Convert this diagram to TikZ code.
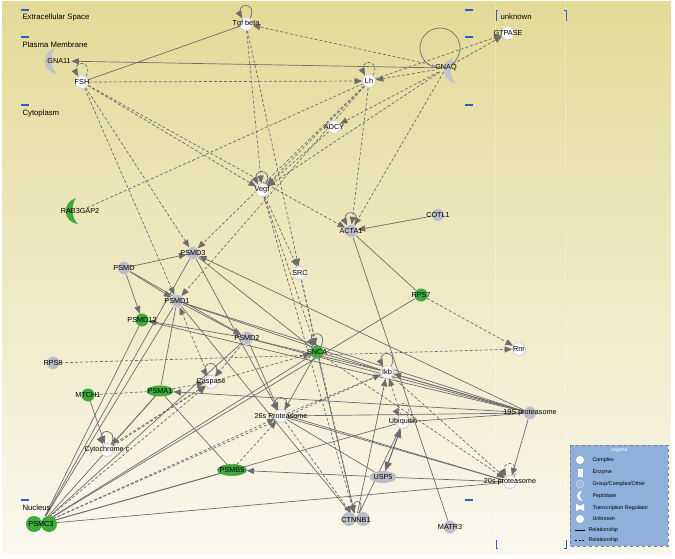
\documentclass[tikz,border=0pt]{standalone}
\usepackage{fontspec}
\setmainfont{Liberation Sans}
\usetikzlibrary{arrows}
\usetikzlibrary{shapes}

\definecolor{bgtop}{RGB}{227,218,152}
\definecolor{bgmid}{RGB}{240,234,198}
\definecolor{bgbot}{RGB}{250,248,238}
\definecolor{nodegrey}{RGB}{188,188,198}
\definecolor{nodegreen}{RGB}{62,170,62}
\definecolor{edgegrey}{RGB}{108,108,108}
\definecolor{legblue}{RGB}{143,176,218}
\definecolor{markblue}{RGB}{52,92,200}

\pgfdeclarelayer{back}
\pgfdeclarelayer{links}
\pgfsetlayers{back,links,main}

% peptidase crescent: x, y, colour
\newcommand\pepshape[3]{%
 \fill[#3] (#1+3,#2-13) .. controls (#1-11,#2-9) and (#1-11,#2+11) .. (#1+5,#2+13)
   .. controls (#1-2,#2+7) and (#1-2,#2-6) .. (#1+3,#2-13);}
% self loop over a node
\newcommand\selfloop[2][rel]{%
 \draw[#1,arr] (#2.55) .. controls +(9,-17) and +(-9,-17) .. (#2.125);}

\tikzset{
 gene/.style={circle,minimum size=13bp,inner sep=0pt},
 wgene/.style={gene,draw=white!65!gray,line width=0.9bp,fill=white},
 ggene/.style={gene,draw=white!55!nodegrey,line width=0.6bp,fill=nodegrey},
 grgene/.style={gene,fill=nodegreen},
 glabel/.style={font=\fontsize{7.3}{8}\selectfont,inner sep=0.5bp},
 comp/.style={anchor=west,font=\fontsize{7.8}{9}\selectfont},
 legtext/.style={anchor=west,font=\fontsize{5.4}{6}\selectfont},
 rel/.style={draw=edgegrey,line width=0.7bp},
 drel/.style={rel,dash pattern=on 3bp off 2bp},
 arr/.style={-triangle 45},
}

\begin{document}
\begin{tikzpicture}[x=1bp,y=-1bp]
\useasboundingbox (0,0) rectangle (675,559);
\begin{pgfonlayer}{back}
 \fill[white] (0,0) rectangle (675,559);
 \shade[top color=bgtop,middle color=bgmid,bottom color=bgbot] (2,2) rectangle (671,553);
 \draw[white,opacity=.25,line width=1bp] (495,2) -- (495,553);
 \draw[white,opacity=.25,line width=1bp] (565,2) -- (565,553);
\end{pgfonlayer}

% compartments
\foreach \y in {10,37,105,500} {
 \draw[markblue,line width=1.2bp] (21,\y) -- (29,\y);
 \draw[markblue,line width=1.2bp] (465,\y) -- (473,\y);
}
\node[comp] at (19,17) {Extracellular Space};
\node[comp] at (19,45) {Plasma Membrane};
\node[comp] at (19,113) {Cytoplasm};
\node[comp] at (19,508) {Nucleus};
\node[comp] at (497,17) {unknown};
\draw[markblue,line width=0.8bp] (498,10) -- (496,10) -- (496,21);
\draw[markblue,line width=0.8bp] (564,10) -- (566,10) -- (566,21);
\draw[markblue,line width=0.8bp] (496,540) -- (496,548) -- (498,548);
\draw[markblue,line width=0.8bp] (566,540) -- (566,548) -- (564,548);

% plasma membrane
\pepshape{52}{61}{nodegrey!90!white}
\node[glabel] (gna) at (59,61) {GNA11};
\draw[edgegrey,line width=0.7bp] (440,48) circle (20);
\pepshape{451}{70}{nodegrey!90!white}
\node[glabel] (gnaq) at (446,68) {GNAQ};
\node[wgene,label={[glabel]center:Tgf beta}] (tgf) at (246,24) {};
\node[wgene,label={[glabel]center:FSH}] (fsh) at (82,82) {};
\node[wgene,label={[glabel]center:Lh}] (lh) at (369,81) {};
\node[wgene,label={[glabel]center:GTPASE}] (gtp) at (508,33) {};

% cytoplasm
\node[wgene,label={[glabel]center:ADCY}] (adcy) at (334,127) {};
\node[wgene,label={[glabel]center:Vegf}] (vegf) at (262,190) {};
\node[ggene,label={[glabel]center:ACTA1}] (acta) at (351,231) {};
\node[ggene,label={[glabel]center:COTL1}] (cotl) at (438,215) {};
\pepshape{73}{211}{nodegreen}
\node[glabel] (rab) at (80,211) {RAB3GAP2};
\node[ggene,label={[glabel]center:PSMD3}] (pmd3) at (193,253) {};
\node[ggene,label={[glabel]center:PSMD}] (pmd) at (124,268) {};
\node[wgene,label={[glabel]center:SRC}] (src) at (300,273) {};
\node[grgene,label={[glabel]center:RPS7}] (rps7) at (421,295) {};
\node[ggene,label={[glabel]center:PSMD1}] (pmd1) at (177,301) {};
\node[grgene,label={[glabel]center:PSMD12}] (pmd12) at (142,320) {};
\node[ggene,label={[glabel]center:PSMD2}] (pmd2) at (247,338) {};
\node[grgene,label={[glabel]center:SNCA}] (snca) at (317,352) {};
\node[wgene,label={[glabel]center:Rnr}] (rnr) at (519,349) {};
\node[ggene,label={[glabel]center:RPS8}] (rps8) at (53,363) {};
\node[wgene,label={[glabel]center:Ikb}] (ikb) at (387,372) {};
\node[wgene,label={[glabel]center:Caspase}] (casp) at (211,382) {};
\node[ellipse,fill=nodegreen,minimum width=27bp,minimum height=11bp,inner sep=0pt,
 label={[glabel]center:PSMA1}] (psma) at (160,391) {};
\node[grgene,label={[glabel]center:MTCH1}] (mtch) at (88,395) {};
\node[wgene,label={[glabel]center:26s Proteasome}] (p26) at (281,416) {};
\node[wgene,label={[glabel]center:Ubiquitin}] (ubq) at (403,422) {};
\node[ggene,label={[glabel]center:19S proteasome}] (p19) at (530,413) {};
\node[wgene,label={[glabel]center:Cytochrome c}] (cyto) at (107,450) {};
\node[ellipse,fill=nodegreen,draw=nodegreen!70!black,minimum width=29bp,minimum height=11bp,
 inner sep=0pt,label={[glabel]center:PSMB5}] (psmb) at (232,470) {};
\node[ellipse,fill=nodegrey,minimum width=27bp,minimum height=12bp,inner sep=0pt,
 label={[glabel]center:USP5}] (usp) at (383,477) {};
\node[wgene,label={[glabel]center:20s proteasome}] (p20) at (510,482) {};
\node[ggene,label={[glabel]center:MATR3}] (matr) at (450,527) {};

% nucleus
\fill[nodegreen] (34,524) circle (8) (49,524) circle (8);
\node[ellipse,minimum width=32bp,minimum height=16bp,inner sep=0pt,
 label={[glabel]center:PSMC3}] (psmc) at (41,524) {};
\fill[nodegrey] (349,519) circle (7) (363,519) circle (7);
\node[ellipse,minimum width=28bp,minimum height=14bp,inner sep=0pt,
 label={[glabel]center:CTNNB1}] (ctn) at (356,520) {};

\begin{pgfonlayer}{links}
 % solid relationships
 \draw[rel] (fsh) -- (tgf);
 \draw[rel,arr] (gnaq) -- (gna);
 \draw[rel,arr] (cotl) -- (acta);
 \draw[rel] (acta) -- (rps7);
 \draw[rel] (acta) -- (matr);
 \draw[rel] (psmc) -- (rps7);
 \draw[rel,arr] (pmd) -- (pmd3);
 \draw[rel,arr] (pmd) -- (pmd12);
 \draw[rel,arr] (pmd) -- (pmd1);
 \draw[rel,arr] (pmd) -- (pmd2);
 \draw[rel,arr] (pmd1) -- (pmd2);
 \draw[rel,arr] (pmd2) -- (pmd12);
 \draw[rel,arr] (p19) -- (pmd3);
 \draw[rel] (p19) -- (pmd1);
 \draw[rel] (p19) -- (pmd12);
 \draw[rel] (p19) -- (pmd2);
 \draw[rel] (p19) -- (snca);
 \draw[rel,arr] (p19) -- (ikb);
 \draw[rel] (p19) -- (ubq);
 \draw[rel] (p19) -- (p26);
 \draw[rel,arr] (p19) -- (p20);
 \draw[rel,arr] (p19) -- (psma);
 \draw[rel] (pmd3) -- (psmc);
 \draw[rel] (pmd1) -- (psmc);
 \draw[rel] (pmd12) -- (psmc);
 \draw[rel] (pmd2) -- (psmc);
 \draw[rel] (psma) -- (psmc);
 \draw[rel] (snca) -- (psmc);
 \draw[rel] (ubq) -- (psmc);
 \draw[rel] (p20) -- (psmc);
 \draw[rel] (psmb) -- (psmc);
 \draw[rel,arr] (psma) -- (cyto);
 \draw[rel,arr] (mtch) -- (cyto);
 \draw[rel] (psma) -- (psmb);
 \draw[rel] (pmd1) -- (psma);
 \draw[rel,arr] (pmd2) -- (p26);
 \draw[rel,arr] (snca) -- (p26);
 \draw[rel] (pmd3) -- (p26);
 \draw[rel] (pmd1) -- (ikb);
 \draw[rel] (pmd2) -- (ikb);
 \draw[rel] (pmd3) -- (snca);
 \draw[rel,line width=1.1bp,triangle 45-triangle 45] (usp) -- (ubq);
 \draw[rel,arr] (usp) -- (psmb);
 \draw[rel] (usp) -- (p20);
 \draw[rel,arr] (ctn) -- (ikb);
 \draw[rel] (ctn) -- (ubq);
 \draw[rel] (snca) -- (ctn);
 \draw[rel] (p26) -- (usp);
 \draw[rel] (p26) -- (p20);
 \draw[rel] (p26.east) -- (p20);
 \draw[rel] (pmd1) -- (ctn);
 % dashed relationships
 \draw[drel,arr] (fsh) -- (lh);
 \draw[drel,arr] (gnaq) -- (tgf);
 \draw[drel,arr] (gnaq) -- (lh);
 \draw[drel,arr] (lh) -- (gtp);
 \draw[drel,arr] (gnaq) -- (gtp);
 \draw[drel,arr] (gnaq) -- (adcy);
 \draw[drel,arr] (tgf) -- (vegf);
 \draw[drel,arr] (tgf) -- (src);
 \draw[drel,arr] (lh) -- (vegf);
 \draw[drel,arr] (gnaq) -- (vegf);
 \draw[drel,arr] (adcy) -- (vegf);
 \draw[drel,arr] (lh) -- (pmd3);
 \draw[drel,arr] (lh) -- (pmd1);
 \draw[drel,arr] (fsh) -- (vegf);
 \draw[drel,arr] (fsh) -- (acta);
 \draw[drel,arr] (fsh) -- (pmd3);
 \draw[drel,arr] (fsh) -- (pmd1);
 \draw[drel] (rab) -- (lh);
 \draw[drel,arr] (gnaq) -- (acta);
 \draw[drel,arr] (lh) -- (acta);
 \draw[drel,arr] (vegf) -- (src);
 \draw[drel,arr] (vegf) -- (snca);
 \draw[drel,arr] (src) -- (snca);
 \draw[drel,arr] (vegf) -- (ctn);
 \draw[drel,arr] (src) -- (ctn);
 \draw[drel,arr] (rps7) -- (rnr);
 \draw[drel,arr] (rps8) -- (rnr);
 \draw[drel,arr] (casp) -- (pmd1);
 \draw[drel,arr] (psmc) -- (casp);
 \draw[drel,arr] (psmc) -- (p26);
 \draw[drel] (psmc) -- (ikb);
 \draw[drel] (mtch) -- (psma);
 \draw[drel,arr] (cyto) -- (casp);
 \draw[drel,arr] (cyto.north east) -- (casp);
 \draw[drel,arr] (psma) -- (casp);
 \draw[drel,arr] (casp) -- (snca);
 \draw[drel,arr] (ubq) -- (ikb);
 \draw[drel,arr] (p26) -- (ctn);
 \draw[drel,arr] (psmb) -- (p26);
 \draw[drel,arr] (p26) -- (ikb);
 \draw[drel,arr] (snca) -- (p20);
 \draw[drel,arr] (ikb) -- (p20);
 \draw[drel,arr] (pmd2) -- (casp);
 % self loops
 \selfloop{tgf}
 \selfloop[drel]{fsh}
 \selfloop[drel]{lh}
 \selfloop{vegf}
 \selfloop{acta}
 \selfloop{snca}
 \selfloop{ikb}
 \selfloop{casp}
 \selfloop{p26}
 \selfloop[drel]{ubq}
 \selfloop{cyto}
 \selfloop[drel]{p20}
 \draw[rel,arr] (ctn.70) .. controls +(9,-15) and +(-6,-15) .. (ctn.100);
\end{pgfonlayer}

% legend
\draw[fill=legblue,draw=gray,dashed] (570,445) rectangle (668,546);
\node[white,font=\fontsize{5}{6}\selectfont] at (619,450) {Legend};
\fill[white] (580,460) circle (4);
\node[legtext] at (589,460) {Complex};
\draw[white,fill=white!85!legblue] (578,469) rectangle (582,476);
\node[legtext] at (589,472) {Enzyme};
\draw[white!75!gray,fill=legblue!85!white] (580,484) circle (4);
\node[legtext] at (589,484) {Group/Complex/Other};
\fill[white] (582,491) .. controls (575,492) and (575,500) .. (583,501)
   .. controls (579,498) and (579,494) .. (582,491);
\node[legtext] at (589,496) {Peptidase};
\fill[white] (576,504) -- (580,506) -- (584,504) -- (584,511) -- (580,509) -- (576,511) -- cycle;
\node[legtext] at (589,508) {Transcription Regulator};
\fill[white] (580,519) circle (4);
\node[legtext] at (589,519) {Unknown};
\draw[black,line width=0.6bp] (575,530) -- (585,530);
\node[legtext] at (585,530) {Relationship};
\draw[black,line width=0.6bp,dash pattern=on 2bp off 1.5bp] (575,540) -- (585,540);
\node[legtext] at (585,540) {Relationship};
\end{tikzpicture}
\end{document}
